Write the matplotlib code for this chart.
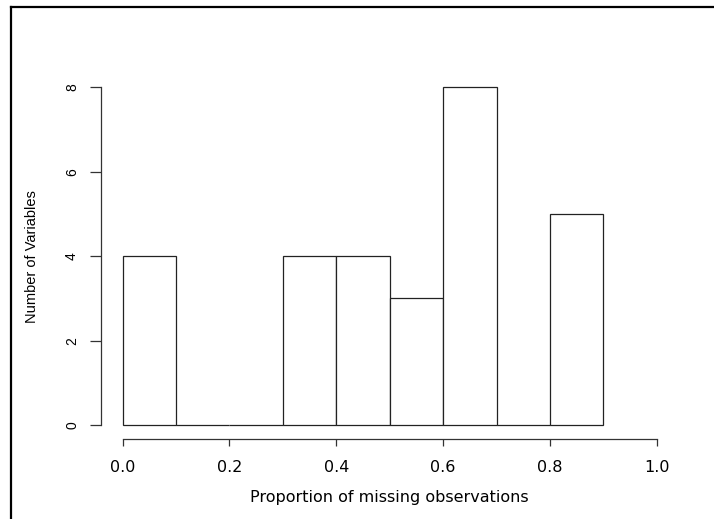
import numpy as np
import matplotlib
matplotlib.use("Agg")
import matplotlib.pyplot as plt
from matplotlib.lines import Line2D

plt.rcParams['font.family'] = ['Liberation Sans', 'DejaVu Sans']

# histogram of missing-data proportions per variable
breaks = [0.0, 0.1, 0.2, 0.3, 0.4, 0.5, 0.6, 0.7, 0.8, 0.9]
counts = [4, 0, 0, 4, 4, 3, 8, 0, 5]
x_ticks = [0.0, 0.2, 0.4, 0.6, 0.8, 1.0]
y_ticks = [0, 2, 4, 6, 8]

fig = plt.figure(figsize=(7.14, 5.19), dpi=100)
ax = fig.add_axes([0.1419, 0.1551, 0.8078, 0.7027])

edges = np.array(breaks)
ax.bar(edges[:-1], counts, width=np.diff(edges), align='edge',
       facecolor='white', edgecolor='#222222', linewidth=0.9)

# R-like axes: padded limits, axis lines only across the tick range
ax.set_xlim(-0.04, 1.04)
ax.set_ylim(-0.32, 8.32)
for side in ['top', 'right']:
    ax.spines[side].set_visible(False)
ax.spines['left'].set_bounds(0, 8)
ax.spines['bottom'].set_bounds(0, 1)
for side in ['left', 'bottom']:
    ax.spines[side].set_linewidth(0.9)
    ax.spines[side].set_color('#333333')

wide = {'family': 'DejaVu Sans', 'size': 11.5}

ax.set_xticks(x_ticks)
ax.set_xticklabels([f"{v:.1f}" for v in x_ticks], fontdict=wide)
ax.set_yticks(y_ticks)
ax.set_yticklabels([str(v) for v in y_ticks], rotation=90, va='center', fontsize=10)
ax.tick_params(axis='x', length=5, width=0.9, pad=10.5, color='#333333')
ax.tick_params(axis='y', length=8, width=0.9, pad=8, color='#333333')

ax.set_xlabel("Proportion of missing observations", fontdict=wide, labelpad=11)
ax.set_ylabel("Number of Variables", fontsize=10.5, labelpad=19)

# outer frame on the left and top edges
fig.add_artist(Line2D([11 / 714, 11 / 714], [0, 1 - 7 / 519],
                      transform=fig.transFigure, color='black', linewidth=1.6))
fig.add_artist(Line2D([11 / 714, 1], [1 - 7 / 519, 1 - 7 / 519],
                      transform=fig.transFigure, color='black', linewidth=1.6))

fig.savefig("out.png", dpi=100)
